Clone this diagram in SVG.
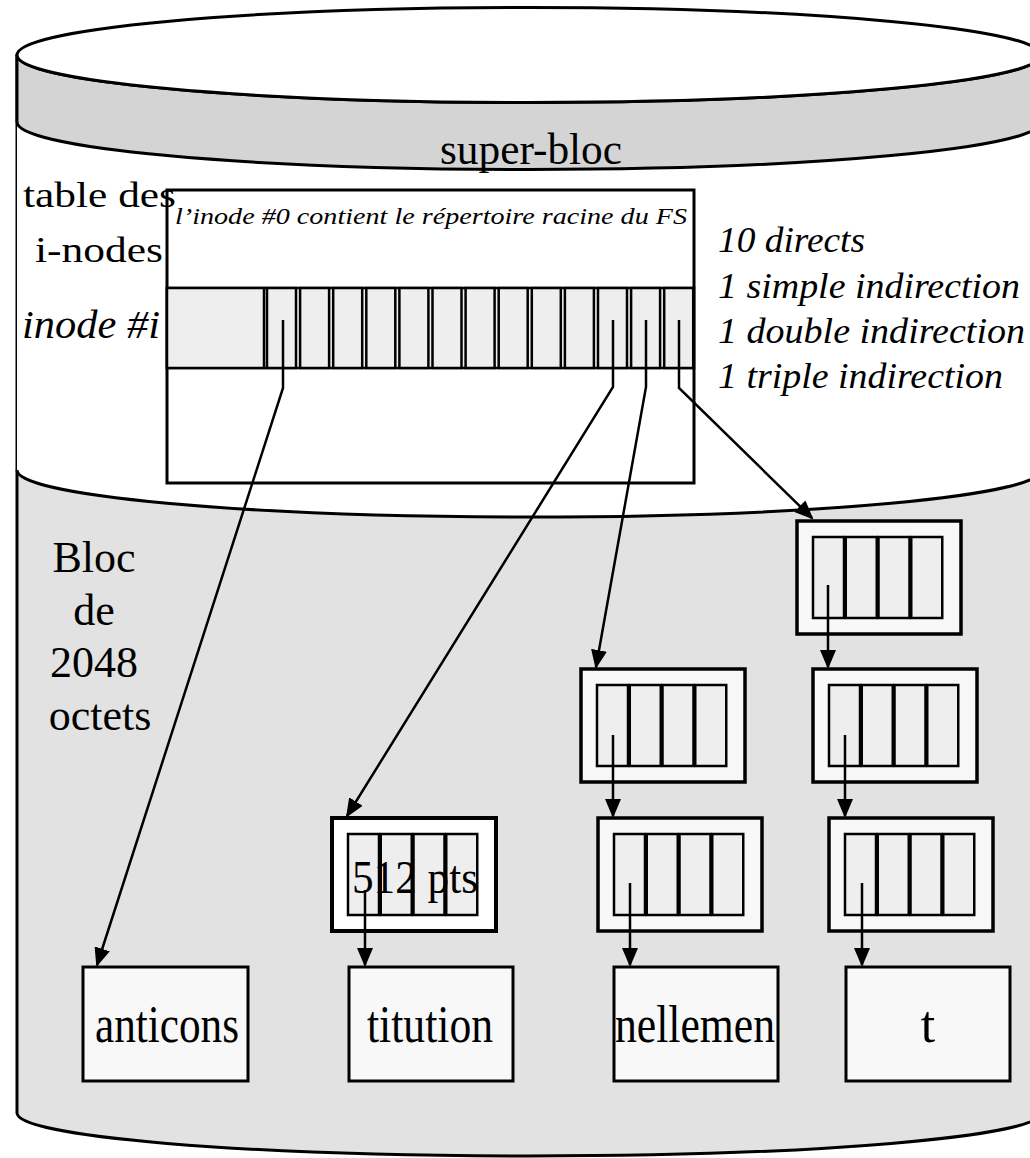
<svg xmlns="http://www.w3.org/2000/svg" width="1030" height="1158" viewBox="0 0 1030 1158">
<defs>
<style>
.ln{stroke:#000;stroke-width:3;}
.t{font-family:"Liberation Serif","Times New Roman",serif;fill:#000;}
.it{font-style:italic;}
.outer{fill:#f8f8f8;stroke:#000;stroke-width:3.5;}
.cell{fill:#eeeeee;stroke:#000;stroke-width:2.5;}
.data{fill:#f8f8f8;stroke:#000;stroke-width:3;}
.conn{fill:none;stroke:#000;stroke-width:2.5;}
</style>
<marker id="arr" markerUnits="userSpaceOnUse" markerWidth="19" markerHeight="16" refX="17" refY="8" orient="auto">
<path d="M0,0 L19,8 L0,16 Z" fill="#000"/>
</marker>
<g id="cells4">
<rect class="cell" x="16" y="16" width="31" height="81"/>
<rect class="cell" x="48.75" y="16" width="31" height="81"/>
<rect class="cell" x="81.5" y="16" width="31" height="81"/>
<rect class="cell" x="114.25" y="16" width="31" height="81"/>
</g>
</defs>

<g id="cylinder">
<path class="ln" d="M17,55 L17,1113 A512,43 0 0 0 1041,1113 L1041,55 Z" fill="#e2e2e2"/>
<path d="M17,122 A512,47.5 0 0 0 1041,122 L1041,470 A512,47 0 0 1 17,470 Z" fill="#ffffff"/>
<path class="ln" d="M17,470 A512,47 0 0 0 1041,470" fill="none"/>
<path class="ln" d="M17,55 A512,47.5 0 0 0 1041,55 L1041,122 A512,47.5 0 0 1 17,122 Z" fill="#d4d4d4"/>
<ellipse class="ln" cx="529" cy="55" rx="512" ry="47.5" fill="#ffffff"/>
<text class="t" x="440" y="164" font-size="45" textLength="182" lengthAdjust="spacingAndGlyphs">super-bloc</text>
</g>

<g id="inode-table">
<rect class="ln" x="167" y="190" width="527" height="293" fill="#ffffff"/>
<rect class="cell" x="167" y="288" width="527" height="80"/>
<rect class="cell" x="167" y="288" width="97" height="80"/>
<rect class="cell" x="267" y="288" width="29" height="80"/>
<rect class="cell" x="300.1" y="288" width="29" height="80"/>
<rect class="cell" x="333.2" y="288" width="29" height="80"/>
<rect class="cell" x="366.3" y="288" width="29" height="80"/>
<rect class="cell" x="399.4" y="288" width="29" height="80"/>
<rect class="cell" x="432.5" y="288" width="29" height="80"/>
<rect class="cell" x="465.6" y="288" width="29" height="80"/>
<rect class="cell" x="498.7" y="288" width="29" height="80"/>
<rect class="cell" x="531.8" y="288" width="29" height="80"/>
<rect class="cell" x="564.9" y="288" width="29" height="80"/>
<rect class="cell" x="598" y="288" width="29" height="80"/>
<rect class="cell" x="631.1" y="288" width="29" height="80"/>
<rect class="cell" x="664.2" y="288" width="29" height="80"/>
<text class="t it" x="175" y="224" font-size="23" textLength="512" lengthAdjust="spacingAndGlyphs">l’inode #0 contient le répertoire racine du FS</text>
</g>

<g id="labels">
<text class="t" x="23" y="207" font-size="36" textLength="153" lengthAdjust="spacingAndGlyphs">table des</text>
<text class="t" x="35" y="262" font-size="36" textLength="128" lengthAdjust="spacingAndGlyphs">i-nodes</text>
<text class="t it" x="22" y="338" font-size="40" textLength="138" lengthAdjust="spacingAndGlyphs">inode #i</text>
<text class="t it" x="718" y="252" font-size="35" textLength="147" lengthAdjust="spacingAndGlyphs">10 directs</text>
<text class="t it" x="718" y="298" font-size="35" textLength="302" lengthAdjust="spacingAndGlyphs">1 simple indirection</text>
<text class="t it" x="718" y="343" font-size="35" textLength="307" lengthAdjust="spacingAndGlyphs">1 double indirection</text>
<text class="t it" x="718" y="388" font-size="35" textLength="285" lengthAdjust="spacingAndGlyphs">1 triple indirection</text>
<text class="t" x="94" y="572" font-size="44" text-anchor="middle">Bloc</text>
<text class="t" x="94" y="625" font-size="44" text-anchor="middle">de</text>
<text class="t" x="94" y="677" font-size="44" text-anchor="middle">2048</text>
<text class="t" x="100" y="730" font-size="44" text-anchor="middle">octets</text>
</g>

<g id="block-T1" transform="translate(797,521)">
<rect class="outer" x="0" y="0" width="164" height="113"/>
<use href="#cells4"/>
</g>
<g id="block-D1" transform="translate(581,669)">
<rect class="outer" x="0" y="0" width="164" height="113"/>
<use href="#cells4"/>
</g>
<g id="block-T2" transform="translate(813,669)">
<rect class="outer" x="0" y="0" width="164" height="113"/>
<use href="#cells4"/>
</g>
<g id="block-S" transform="translate(332,818)">
<rect class="outer" x="0" y="0" width="164" height="113" style="fill:#ffffff;stroke-width:4"/>
<use href="#cells4"/>
<text class="t" x="20" y="75" font-size="46" textLength="126" lengthAdjust="spacingAndGlyphs">512 pts</text>
</g>
<g id="block-D2" transform="translate(598,818)">
<rect class="outer" x="0" y="0" width="164" height="113"/>
<use href="#cells4"/>
</g>
<g id="block-T3" transform="translate(829,818)">
<rect class="outer" x="0" y="0" width="164" height="113"/>
<use href="#cells4"/>
</g>

<g id="data-anticons">
<rect class="data" x="83" y="967" width="165" height="114"/>
<text class="t" x="167" y="1042" font-size="52" text-anchor="middle" textLength="144" lengthAdjust="spacingAndGlyphs">anticons</text>
</g>
<g id="data-titution">
<rect class="data" x="349" y="967" width="164" height="114"/>
<text class="t" x="430" y="1042" font-size="52" text-anchor="middle" textLength="126" lengthAdjust="spacingAndGlyphs">titution</text>
</g>
<g id="data-nellemen">
<rect class="data" x="614" y="967" width="164" height="114"/>
<text class="t" x="695" y="1042" font-size="52" text-anchor="middle" textLength="160" lengthAdjust="spacingAndGlyphs">nellemen</text>
</g>
<g id="data-t">
<rect class="data" x="846" y="967" width="164" height="114"/>
<text class="t" x="928" y="1042" font-size="52" text-anchor="middle">t</text>
</g>

<g id="connectors">
<path class="conn" marker-end="url(#arr)" d="M283,320 L283,388 L97,965"/>
<path class="conn" marker-end="url(#arr)" d="M613,320 L613,387 L347,816"/>
<path class="conn" marker-end="url(#arr)" d="M646,320 L646,387 L596,667"/>
<path class="conn" marker-end="url(#arr)" d="M679,320 L679,388 L812,518"/>
<path class="conn" marker-end="url(#arr)" d="M828,585 L828,667"/>
<path class="conn" marker-end="url(#arr)" d="M613,735 L613,816"/>
<path class="conn" marker-end="url(#arr)" d="M845,735 L845,816"/>
<path class="conn" marker-end="url(#arr)" d="M365,890 L365,965"/>
<path class="conn" marker-end="url(#arr)" d="M630,883 L630,965"/>
<path class="conn" marker-end="url(#arr)" d="M862,883 L862,965"/>
</g>
</svg>
